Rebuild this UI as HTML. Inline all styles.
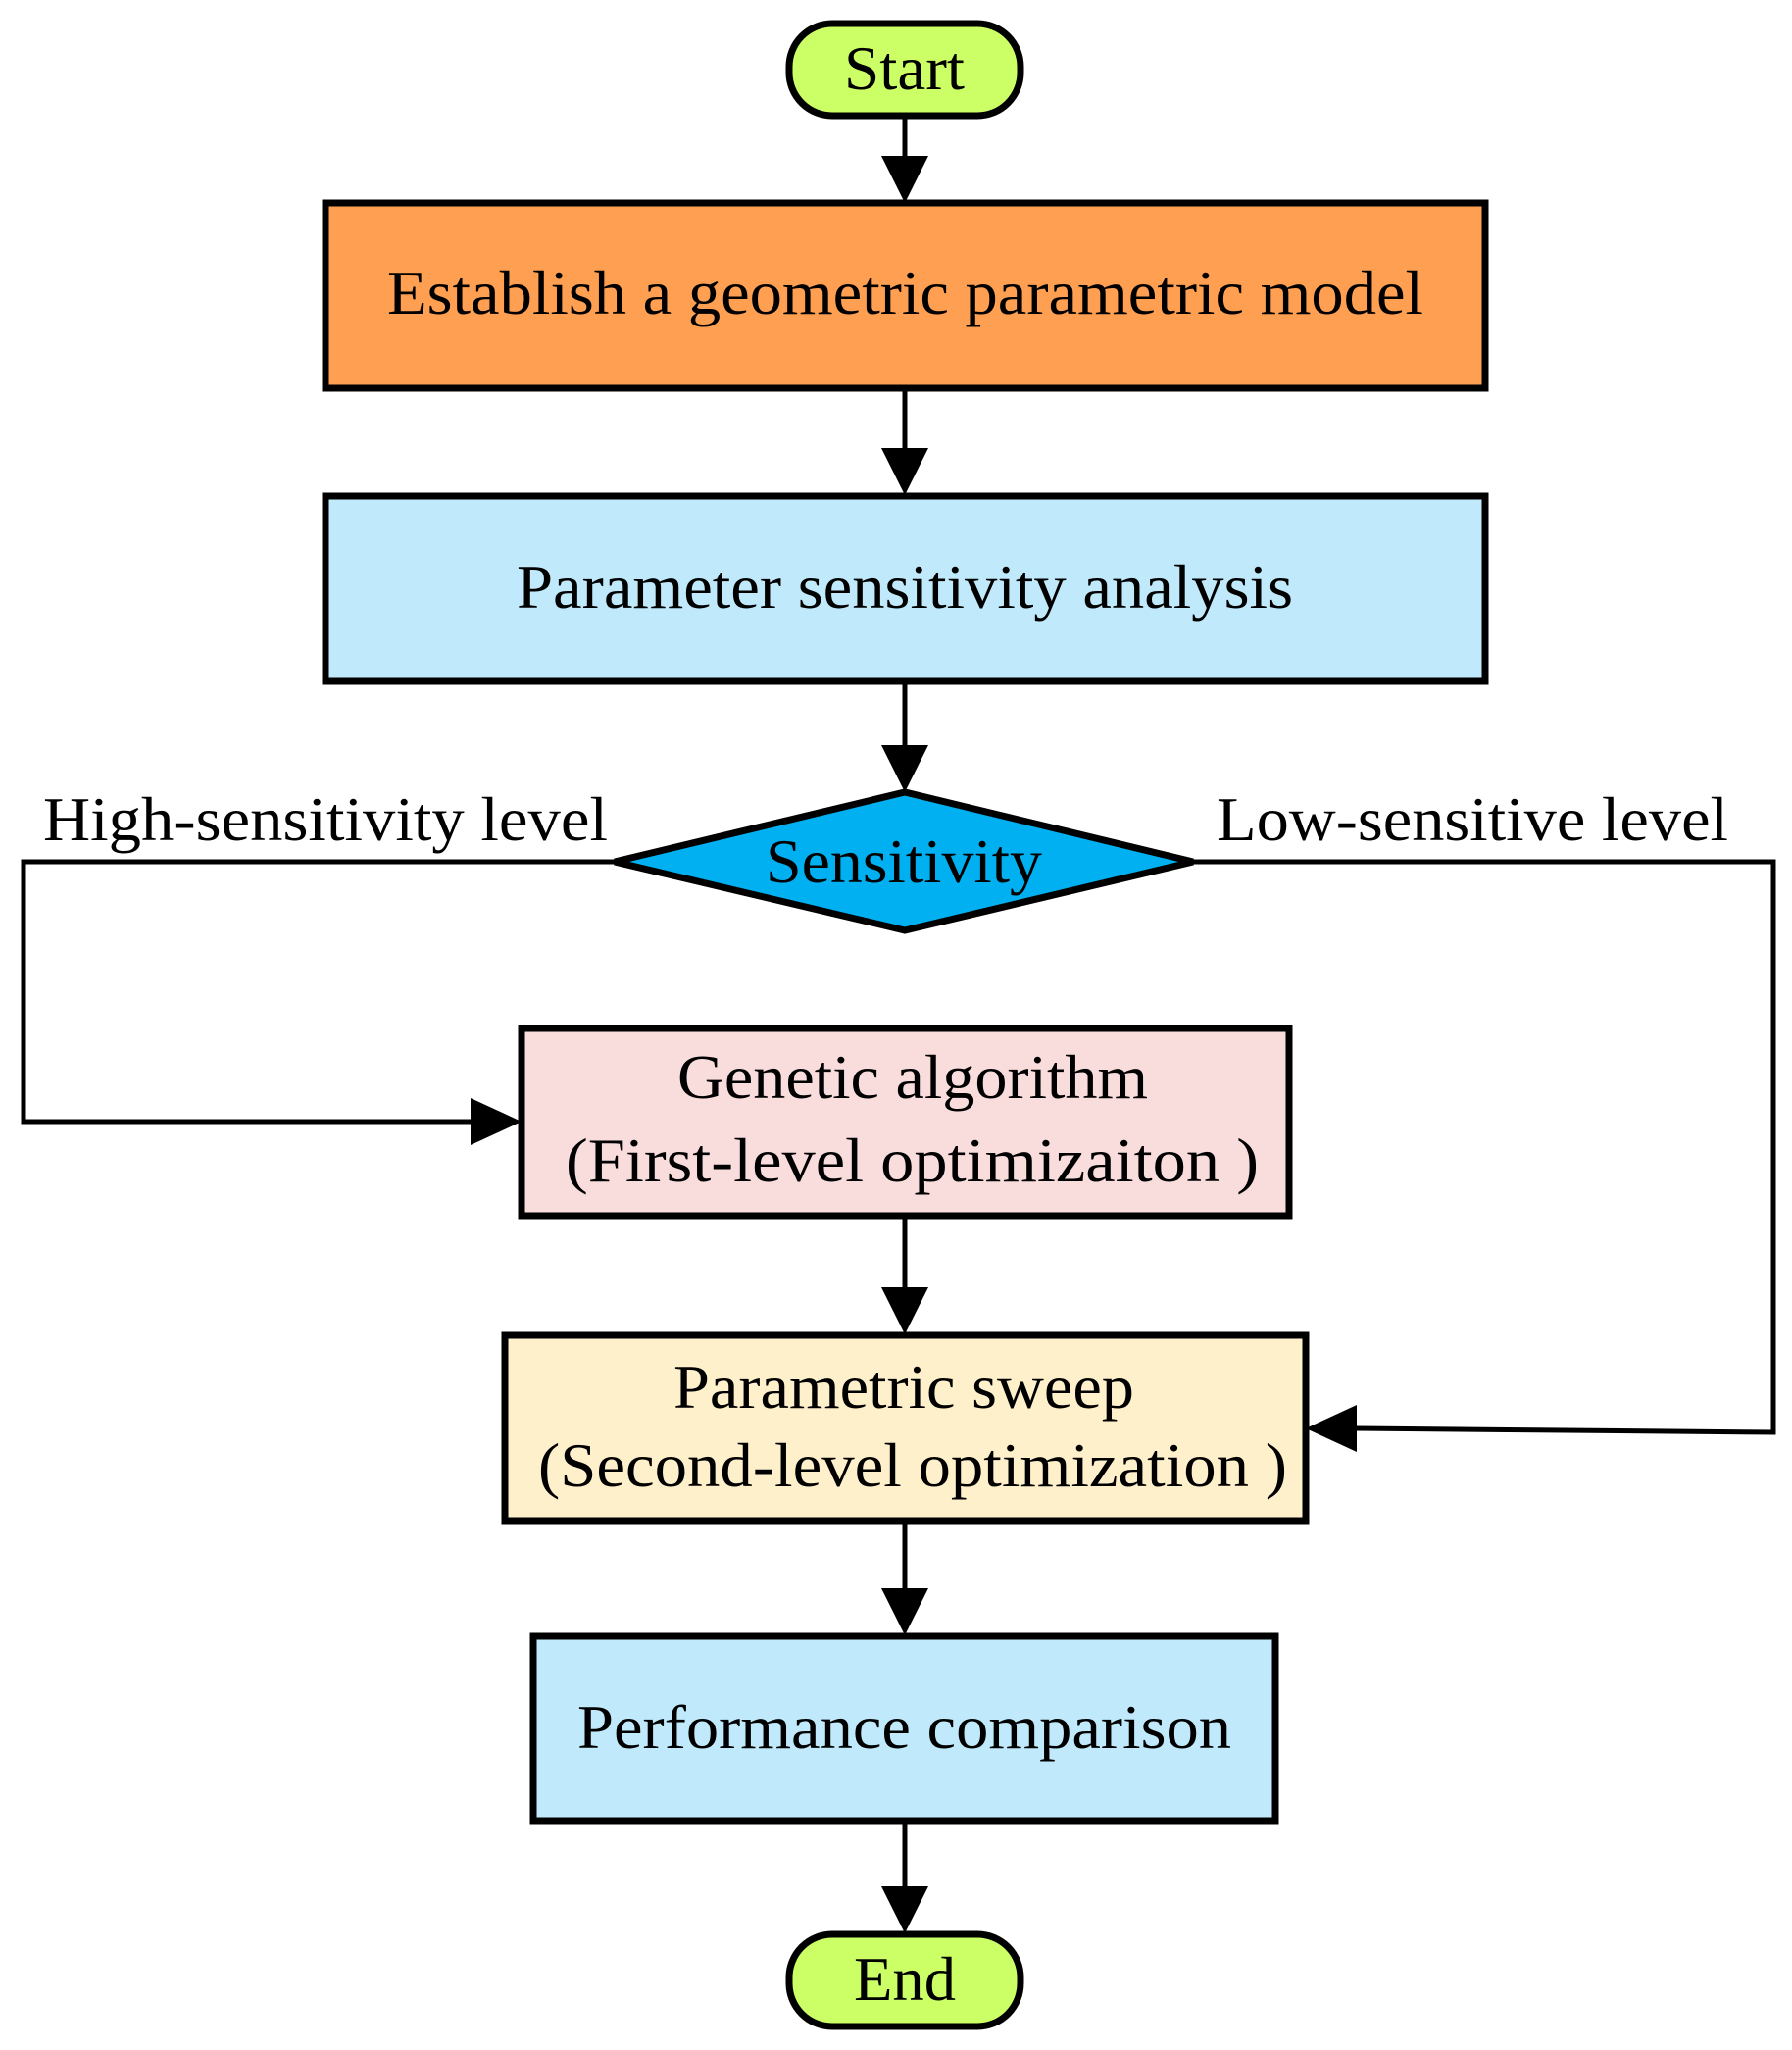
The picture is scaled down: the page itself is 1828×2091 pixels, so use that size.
<!DOCTYPE html>
<html><head><meta charset="utf-8"><style>html,body{margin:0;padding:0;background:#fff}svg{display:block}</style></head>
<body>
<svg width="1828" height="2091" viewBox="0 0 1828 2091" xmlns="http://www.w3.org/2000/svg" font-family="Liberation Serif, serif" font-size="64">
<g stroke="#000" stroke-width="5" fill="none">
<line x1="923" y1="119" x2="923" y2="165"/>
<line x1="923" y1="396" x2="923" y2="463"/>
<line x1="923" y1="695" x2="923" y2="765"/>
<polyline points="627,879 24,879 24,1144 485,1144"/>
<polyline points="1217,879 1809,879 1809,1461 1378,1457"/>
<line x1="923" y1="1240" x2="923" y2="1318"/>
<line x1="923" y1="1551" x2="923" y2="1625"/>
<line x1="923" y1="1857" x2="923" y2="1930"/>
</g>
<g fill="#000">
<polygon points="899,159 947,159 923,207"/>
<polygon points="899,457 947,457 923,505"/>
<polygon points="899,760 947,760 923,808"/>
<polygon points="480,1120 480,1168 532,1144"/>
<polygon points="1384,1433 1384,1481 1332,1457"/>
<polygon points="899,1313 947,1313 923,1361"/>
<polygon points="899,1620 947,1620 923,1668"/>
<polygon points="899,1924 947,1924 923,1972"/>
</g>
<g stroke="#000" stroke-width="7">
<rect x="805" y="24" width="236" height="94" rx="44" fill="#CCFF66"/>
<rect x="332" y="207" width="1183" height="189" fill="#FF9F52"/>
<rect x="332" y="506" width="1183" height="189" fill="#C0EAFB"/>
<polygon points="627,879 923,808 1217,879 923,949" fill="#00B0F0"/>
<rect x="532" y="1049" width="783" height="191" fill="#F9DCDC"/>
<rect x="515" y="1362" width="817" height="189" fill="#FFF0CC"/>
<rect x="544" y="1669" width="757" height="188" fill="#C0EAFB"/>
<rect x="805" y="1973" width="236" height="94" rx="44" fill="#CCFF66"/>
</g>
<g fill="#000">
<text x="861" y="91" textLength="123" lengthAdjust="spacingAndGlyphs">Start</text>
<text x="395" y="320" textLength="1057" lengthAdjust="spacingAndGlyphs">Establish a geometric parametric model</text>
<text x="527" y="620" textLength="792" lengthAdjust="spacingAndGlyphs">Parameter sensitivity analysis</text>
<text x="781" y="900" textLength="282" lengthAdjust="spacingAndGlyphs">Sensitivity</text>
<text x="44" y="857" textLength="576" lengthAdjust="spacingAndGlyphs">High-sensitivity  level</text>
<text x="1241" y="857" textLength="522" lengthAdjust="spacingAndGlyphs">Low-sensitive level</text>
<text x="691" y="1120" textLength="480" lengthAdjust="spacingAndGlyphs">Genetic algorithm</text>
<text x="577" y="1205" textLength="707" lengthAdjust="spacingAndGlyphs">(First-level optimizaiton  )</text>
<text x="687" y="1436" textLength="470" lengthAdjust="spacingAndGlyphs">Parametric sweep</text>
<text x="549" y="1516" textLength="764" lengthAdjust="spacingAndGlyphs">(Second-level optimization )</text>
<text x="589" y="1783" textLength="667" lengthAdjust="spacingAndGlyphs">Performance comparison</text>
<text x="871" y="2040" textLength="104" lengthAdjust="spacingAndGlyphs">End</text>
</g>
</svg>
</body></html>
